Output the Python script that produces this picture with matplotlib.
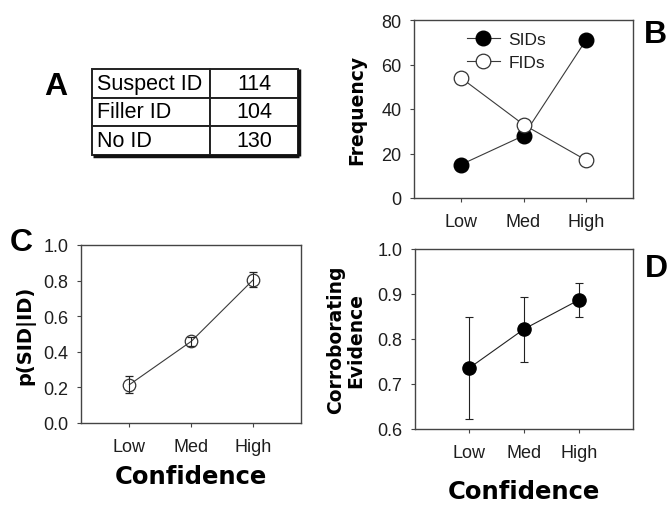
import matplotlib
matplotlib.use('Agg')
import matplotlib.pyplot as plt

plt.rcParams['font.family'] = ['Liberation Sans', 'DejaVu Sans']

# data
confidence = ['Low', 'Med', 'High']
pos = [1, 2, 3]

table_rows = ['Suspect ID', 'Filler ID', 'No ID']
table_counts = [114, 104, 130]

sid_freq = [15, 28, 71]
fid_freq = [54, 33, 17]

p_sid = [0.215, 0.459, 0.805]
p_sid_err = [0.048, 0.025, 0.042]

corrob = [0.735, 0.822, 0.887]
corrob_err = [0.113, 0.072, 0.037]

W, H = 667, 506
fig = plt.figure(figsize=(W / 100, H / 100), dpi=100)

def rect(l, t, r, b):
    return [l / W, 1 - b / H, (r - l) / W, (b - t) / H]

label_font = dict(family='DejaVu Sans', fontweight='bold')
tick_col = '#1e1e1e'
line_col = '#3a3a3a'


def style(ax, xlim):
    ax.set_xlim(*xlim)
    ax.set_xticks(pos)
    ax.set_xticklabels(confidence)
    for s in ax.spines.values():
        s.set_color('#444444')
        s.set_linewidth(1.0)
    ax.tick_params(axis='x', direction='out', length=3, width=0.8, pad=8,
                   labelsize=13, labelcolor=tick_col, color='#444444')
    ax.tick_params(axis='y', direction='out', length=3, width=0.8, pad=6,
                   labelsize=13, labelcolor=tick_col, color='#444444')
    ax.tick_params(top=False, right=False)


# panel A: table
axA = fig.add_axes(rect(92, 70, 298, 156))
axA.axis('off')
cells = [[r, str(c)] for r, c in zip(table_rows, table_counts)]
tbl = axA.table(cellText=cells, colWidths=[118 / 206, 88 / 206],
                bbox=[0, 0, 1, 1], cellLoc='left')
tbl.auto_set_font_size(False)
for (r, c), cell in tbl.get_celld().items():
    cell.set_linewidth(1.4)
    cell.set_edgecolor('#222222')
    cell.PAD = 0.04
    cell.get_text().set_fontsize(15.5)
    if c == 1:
        cell.get_text().set_horizontalalignment('center')
        cell._loc = 'center'
axA.plot([0.005, 1.005], [-0.012, -0.012], color='#111111', lw=2.5,
         transform=axA.transAxes, clip_on=False, solid_capstyle='butt')
axA.plot([1.005, 1.005], [-0.012, 1.0], color='#111111', lw=2.5,
         transform=axA.transAxes, clip_on=False, solid_capstyle='butt')

# panel B: frequency
axB = fig.add_axes(rect(414, 21, 633, 199))
axB.plot(pos, sid_freq, '-o', color=line_col, lw=0.8, markersize=10.5,
         markerfacecolor='black', markeredgecolor='black', label='SIDs')
axB.plot(pos, fid_freq, '-o', color=line_col, lw=0.8, markersize=10.5,
         markerfacecolor='white', markeredgecolor='#333333', markeredgewidth=0.9,
         label='FIDs')
axB.set_ylim(0, 80)
axB.set_yticks([0, 20, 40, 60, 80])
style(axB, (0.25, 3.75))
axB.set_ylabel('Frequency', fontsize=13.5, va='center', **label_font)
axB.yaxis.set_label_coords(-0.26, 0.5)
axB.legend(loc='upper left', bbox_to_anchor=(0.24, 0.935), frameon=False,
           fontsize=12.5, numpoints=1, handlelength=1.9, handletextpad=0.5,
           labelspacing=0.45, borderpad=0, borderaxespad=0,
           labelcolor=tick_col)

# panel C: p(SID|ID)
axC = fig.add_axes(rect(81, 246, 301, 424))
axC.plot(pos, p_sid, '-', color=line_col, lw=0.8)
axC.errorbar(pos, p_sid, yerr=p_sid_err, fmt='o', color='#222222',
             markersize=9, markerfacecolor='none', markeredgecolor='#333333',
             markeredgewidth=0.9, elinewidth=0.8, capsize=3, capthick=0.8)
axC.set_ylim(0, 1.0)
axC.set_yticks([0.0, 0.2, 0.4, 0.6, 0.8, 1.0])
axC.set_yticklabels(['0.0', '0.2', '0.4', '0.6', '0.8', '1.0'])
style(axC, (0.22, 3.77))
axC.set_ylabel('p(SID|ID)', fontsize=14, va='center', **label_font)
axC.yaxis.set_label_coords(-0.255, 0.5)
axC.set_xlabel('Confidence', fontsize=17.5, va='center', **label_font)
axC.xaxis.set_label_coords(0.5, -0.298)

# panel D: corroborating evidence
axD = fig.add_axes(rect(415, 250, 633, 430))
axD.errorbar(pos, corrob, yerr=corrob_err, fmt='-o', color='#222222',
             markersize=9.5, markerfacecolor='black', markeredgecolor='black',
             lw=0.8, elinewidth=0.8, capsize=3, capthick=0.8)
axD.set_ylim(0.6, 1.0)
axD.set_yticks([0.6, 0.7, 0.8, 0.9, 1.0])
axD.set_yticklabels(['0.6', '0.7', '0.8', '0.9', '1.0'])
style(axD, (0.02, 3.98))
axD.set_ylabel('Corroborating\nEvidence', fontsize=13.5, va='center',
               linespacing=1.1, **label_font)
axD.yaxis.set_label_coords(-0.317, 0.5)
axD.set_xlabel('Confidence', fontsize=17.5, va='center', **label_font)
axD.xaxis.set_label_coords(0.5, -0.344)

# panel letters
for letter, x, y in [('A', 56, 87), ('B', 655, 35), ('C', 21, 243), ('D', 656, 269)]:
    fig.text(x / W, 1 - y / H, letter, fontsize=23, fontweight='bold',
             ha='center', va='center', color='black')

fig.savefig('out.png', dpi=100)
